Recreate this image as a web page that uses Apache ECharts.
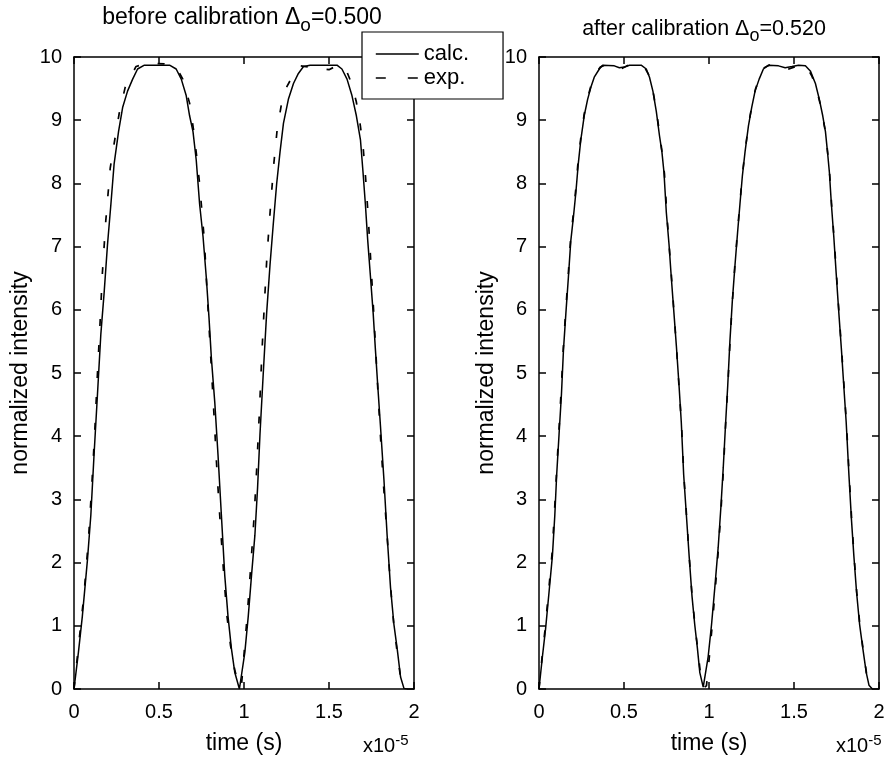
<!DOCTYPE html>
<html><head><meta charset="utf-8">
<script src="https://cdn.jsdelivr.net/npm/echarts@6/dist/echarts.min.js"></script>
<style>html,body{margin:0;padding:0;background:#fff}#c{width:888px;height:760px}</style>
</head><body><div id="c"></div>
<script>
// ---- tick labels ----
const xTickLabels = ['0', '0.5', '1', '1.5', '2'];
const yTickLabels = ['0','1','2','3','4','5','6','7','8','9','10'];

// ---- left panel: before calibration (time in units of 1e-5 s) ----
const beforeCalcTime = [0, .026, .049, .079, .099, .118, .138, .158, .177, .197, .217, .236, .262, .286, .315, .345, .374, .414, .562, .601, .631, .660, .680, .700, .719, .739, .759, .778, .794, .808, .828, .847, .867, .887, .906, .926, .946, .973,
  1.005, 1.025, 1.044, 1.064, 1.080, 1.094, 1.113, 1.133, 1.153, 1.172, 1.192, 1.212, 1.232, 1.261, 1.291, 1.320, 1.350, 1.389, 1.547, 1.576, 1.606, 1.635, 1.661, 1.685, 1.700, 1.714, 1.728, 1.744, 1.760, 1.773, 1.787, 1.803, 1.823, 1.842, 1.862, 1.882, 1.901, 1.921, 1.941, 1.960];
const beforeCalcIntensity = [0, .58, 1.15, 2.04, 2.75, 3.71, 4.66, 5.62, 6.26, 7.03, 7.67, 8.31, 8.82, 9.20, 9.46, 9.65, 9.81, 9.87, 9.87, 9.81, 9.65, 9.39, 9.07, 8.82, 8.37, 7.67, 7.16, 6.52, 5.88, 5.24, 4.54, 3.71, 2.75, 1.79, 1.15, .64, .26, 0,
  .58, 1.15, 1.79, 2.43, 3.19, 4.03, 4.98, 5.94, 6.71, 7.35, 7.99, 8.50, 8.95, 9.33, 9.58, 9.74, 9.85, 9.87, 9.87, 9.81, 9.65, 9.39, 9.07, 8.69, 8.18, 7.67, 7.09, 6.52, 5.94, 5.37, 4.79, 4.15, 3.32, 2.43, 1.60, 1.02, .64, .19, .01, 0];
const beforeExpTime = [0, .026, .059, .085, .104, .122, .136, .152, .167, .187, .213, .236, .266, .301, .365, .424, .532, .601, .640, .680, .703, .723, .739, .753, .767, .778, .790, .802, .814, .826, .837, .851, .867, .883, .900, .920, .944, .971,
  .985, 1.0, 1.02, 1.04, 1.06, 1.075, 1.09, 1.105, 1.12, 1.135, 1.155, 1.175, 1.195, 1.22, 1.25, 1.29, 1.33, 1.44, 1.50, 1.56, 1.60, 1.63, 1.66, 1.68, 1.70, 1.715, 1.73, 1.745, 1.76, 1.775, 1.79, 1.805, 1.82, 1.84, 1.86, 1.88, 1.90, 1.92, 1.945, 1.965];
const beforeExpIntensity = [0, .67, 1.50, 2.36, 3.19, 4.06, 4.89, 5.72, 6.58, 7.41, 8.24, 8.63, 9.11, 9.52, 9.85, 9.90, 9.89, 9.84, 9.65, 9.27, 8.85, 8.40, 7.99, 7.54, 7.09, 6.52, 5.94, 5.37, 4.79, 4.22, 3.64, 3.00, 2.36, 1.73, 1.15, .70, .32, .03,
  .05, .55, 1.2, 1.95, 2.75, 3.5, 4.35, 5.3, 6.1, 6.85, 7.6, 8.3, 8.85, 9.25, 9.52, 9.72, 9.86, 9.82, 9.8, 9.88, 9.8, 9.6, 9.3, 9.0, 8.6, 8.1, 7.5, 6.8, 6.1, 5.35, 4.6, 3.9, 3.25, 2.5, 1.7, 1.05, .6, .2, .02, 0];

// ---- right panel: after calibration ----
const afterCalcTime = [0, .020, .039, .059, .079, .093, .104, .118, .132, .144, .158, .173, .187, .203, .217, .231, .246, .266, .286, .305, .325, .355, .374, .443, .473, .502, .532, .601, .631, .650, .670, .690, .709, .723, .735, .749, .765, .778, .794, .808, .824, .837, .851, .867, .883, .900, .916, .932, .946, .966, .975,
  .995, 1.015, 1.034, 1.054, 1.070, 1.084, 1.098, 1.110, 1.123, 1.137, 1.153, 1.168, 1.182, 1.196, 1.212, 1.232, 1.251, 1.271, 1.295, 1.320, 1.350, 1.409, 1.448, 1.488, 1.527, 1.567, 1.596, 1.626, 1.649, 1.669, 1.685, 1.697, 1.708, 1.720, 1.734, 1.748, 1.764, 1.779, 1.793, 1.807, 1.823, 1.838, 1.852, 1.868, 1.886, 1.905, 1.925, 1.941, 1.961];
const afterCalcIntensity = [0, .51, .96, 1.53, 2.11, 2.75, 3.39, 4.03, 4.66, 5.37, 5.94, 6.52, 7.09, 7.48, 7.86, 8.31, 8.69, 9.07, 9.33, 9.52, 9.68, 9.81, 9.87, 9.86, 9.83, 9.84, 9.87, 9.87, 9.81, 9.68, 9.46, 9.14, 8.75, 8.50, 8.18, 7.54, 7.03, 6.52, 5.94, 5.43, 4.79, 4.22, 3.39, 2.75, 2.11, 1.47, 1.02, .64, .26, .03, 0,
  .51, 1.02, 1.60, 2.24, 2.88, 3.51, 4.22, 4.79, 5.50, 6.13, 6.71, 7.22, 7.67, 8.11, 8.50, 8.91, 9.20, 9.46, 9.65, 9.81, 9.87, 9.86, 9.83, 9.85, 9.87, 9.86, 9.78, 9.58, 9.33, 9.07, 8.82, 8.50, 8.18, 7.67, 7.16, 6.58, 5.94, 5.37, 4.79, 4.22, 3.39, 2.68, 2.11, 1.53, 1.02, .64, .26, .06, 0];
const afterExpTime = [0, .018, .037, .057, .077, .091, .103, .117, .130, .143, .157, .172, .186, .202, .216, .230, .246, .266, .287, .307, .330, .360, .400, .450, .490, .530, .580, .620, .645, .668, .690, .710, .725, .738, .752, .766, .780, .795, .809, .824, .838, .852, .868, .884, .901, .918, .934, .950, .968,
  .985, 1.000, 1.018, 1.036, 1.055, 1.071, 1.085, 1.098, 1.111, 1.124, 1.138, 1.153, 1.168, 1.182, 1.197, 1.213, 1.233, 1.253, 1.273, 1.298, 1.325, 1.360, 1.420, 1.460, 1.500, 1.540, 1.575, 1.605, 1.630, 1.652, 1.671, 1.687, 1.699, 1.710, 1.722, 1.736, 1.750, 1.766, 1.781, 1.795, 1.809, 1.825, 1.840, 1.854, 1.870, 1.888, 1.907, 1.927, 1.945, 1.965];
const afterExpIntensity = [0, .50, .98, 1.56, 2.15, 2.80, 3.42, 4.08, 4.70, 5.40, 5.98, 6.55, 7.12, 7.52, 7.90, 8.35, 8.72, 9.10, 9.36, 9.56, 9.72, 9.84, 9.89, 9.85, 9.82, 9.88, 9.88, 9.84, 9.72, 9.50, 9.16, 8.78, 8.47, 8.15, 7.52, 7.00, 6.50, 5.92, 5.40, 4.77, 4.20, 3.38, 2.74, 2.08, 1.45, 1.00, .62, .24, .02,
  .05, .45, .98, 1.55, 2.20, 2.85, 3.48, 4.20, 4.80, 5.52, 6.15, 6.74, 7.25, 7.70, 8.15, 8.53, 8.94, 9.24, 9.49, 9.68, 9.83, 9.88, 9.84, 9.80, 9.84, 9.88, 9.84, 9.70, 9.52, 9.28, 9.02, 8.78, 8.46, 8.14, 7.63, 7.12, 6.55, 5.90, 5.33, 4.76, 4.18, 3.36, 2.64, 2.08, 1.50, 1.00, .62, .24, .05, 0];

const titles = ['before calibration \u0394{s|o}=0.500', 'after calibration \u0394{s|o}=0.520'];
const seriesNames = ['calc.', 'exp.'];
const xName = 'time (s)';
const yName = 'normalized intensity';
const xScaleText = 'x10{s|-5}';

const FONT = '"Liberation Sans", Arial, Helvetica, sans-serif';
const zip = (a, b) => a.map((v, i) => [v, b[i]]);
const axisLineStyle = { color: '#000', width: 1.5 };

function xAxis(grid, pos, labels) {
  return {
    type: 'value', gridIndex: grid, position: pos, min: 0, max: 2, interval: 0.5,
    axisLine: { show: true, onZero: false, lineStyle: axisLineStyle },
    axisTick: { show: true, inside: true, length: 7, lineStyle: axisLineStyle },
    splitLine: { show: false },
    axisLabel: { show: labels, margin: 13, color: '#000', fontSize: 20, fontFamily: FONT,
      formatter: v => xTickLabels[Math.round(v / 0.5)] },
    name: labels ? xName : '', nameLocation: 'middle', nameGap: 43,
    nameTextStyle: { color: '#000', fontSize: 23, fontFamily: FONT }
  };
}
function yAxis(grid, pos, labels, gap) {
  return {
    type: 'value', gridIndex: grid, position: pos, min: 0, max: 10, interval: 1,
    axisLine: { show: true, onZero: false, lineStyle: axisLineStyle },
    axisTick: { show: true, inside: true, length: 7, lineStyle: axisLineStyle },
    splitLine: { show: false },
    axisLabel: { show: labels, margin: 12, color: '#000', fontSize: 20, fontFamily: FONT,
      formatter: v => yTickLabels[Math.round(v)] },
    name: labels ? yName : '', nameLocation: 'middle', nameGap: gap, nameRotate: 90,
    nameTextStyle: { color: '#000', fontSize: 23, fontFamily: FONT }
  };
}
function line(name, xi, t, I, dashed) {
  return {
    type: 'line', name: name, xAxisIndex: xi, yAxisIndex: xi, data: zip(t, I),
    symbol: 'none', smooth: false, silent: true, animation: false,
    lineStyle: { color: '#000', width: dashed ? 1.7 : 1.5, type: dashed ? [7, 19] : 'solid' },
    itemStyle: { color: '#000' }, z: dashed ? 3 : 2
  };
}
const noSymbol = { color: 'rgba(0,0,0,0)', borderWidth: 0, opacity: 0 };

const option = {
  backgroundColor: '#fff',
  animation: false,
  title: [
    { text: titles[0], left: 242, top: 1, textAlign: 'center', padding: 0,
      textStyle: { fontSize: 23, lineHeight: 34, fontWeight: 'normal', color: '#000', fontFamily: FONT,
        rich: { s: { fontSize: 19, lineHeight: 19, verticalAlign: 'bottom', fontFamily: FONT, color: '#000' } } } },
    { text: titles[1], left: 704, top: 13, textAlign: 'center', padding: 0,
      textStyle: { fontSize: 21.5, lineHeight: 32, fontWeight: 'normal', color: '#000', fontFamily: FONT,
        rich: { s: { fontSize: 18, lineHeight: 18, verticalAlign: 'bottom', fontFamily: FONT, color: '#000' } } } }
  ],
  grid: [
    { left: 74, right: 474, top: 57, bottom: 70 },
    { left: 539, right: 9, top: 57, bottom: 70 }
  ],
  xAxis: [ xAxis(0, 'bottom', true), xAxis(0, 'top', false), xAxis(1, 'bottom', true), xAxis(1, 'top', false) ],
  yAxis: [ yAxis(0, 'left', true, 42), yAxis(0, 'right', false, 0), yAxis(1, 'left', true, 41), yAxis(1, 'right', false, 0) ],
  legend: {
    left: 362, top: 32, orient: 'vertical', z: 10,
    backgroundColor: '#fff', borderColor: '#000', borderWidth: 1.2, borderRadius: 0,
    padding: [11, 34, 10, 13], itemWidth: 43, itemHeight: 14, itemGap: 2, itemTextGap: 10,
    textStyle: { color: '#000', fontSize: 22, fontFamily: FONT },
    itemStyle: noSymbol,
    data: [
      { name: seriesNames[0], itemStyle: noSymbol, lineStyle: { color: '#000', width: 1.3, type: 'solid' } },
      { name: seriesNames[1], itemStyle: noSymbol, lineStyle: { color: '#000', width: 1.6, type: [10, 22] } }
    ],
    selectedMode: false
  },
  series: [
    line(seriesNames[0], 0, beforeCalcTime, beforeCalcIntensity, false),
    line(seriesNames[1], 0, beforeExpTime, beforeExpIntensity, true),
    line(seriesNames[0], 2, afterCalcTime, afterCalcIntensity, false),
    line(seriesNames[1], 2, afterExpTime, afterExpIntensity, true)
  ],
  graphic: [
    { type: 'text', left: 363, top: 733, silent: true,
      style: { text: xScaleText, fill: '#000', fontSize: 20, lineHeight: 26, fontFamily: FONT,
        rich: { s: { fontSize: 15, lineHeight: 15, verticalAlign: 'top', fontFamily: FONT, fill: '#000' } } } },
    { type: 'text', left: 836, top: 733, silent: true,
      style: { text: xScaleText, fill: '#000', fontSize: 20, lineHeight: 26, fontFamily: FONT,
        rich: { s: { fontSize: 15, lineHeight: 15, verticalAlign: 'top', fontFamily: FONT, fill: '#000' } } } }
  ]
};
const chart = echarts.init(document.getElementById('c'), null, { renderer: 'canvas' });
chart.setOption(option);
</script>
</body></html>
